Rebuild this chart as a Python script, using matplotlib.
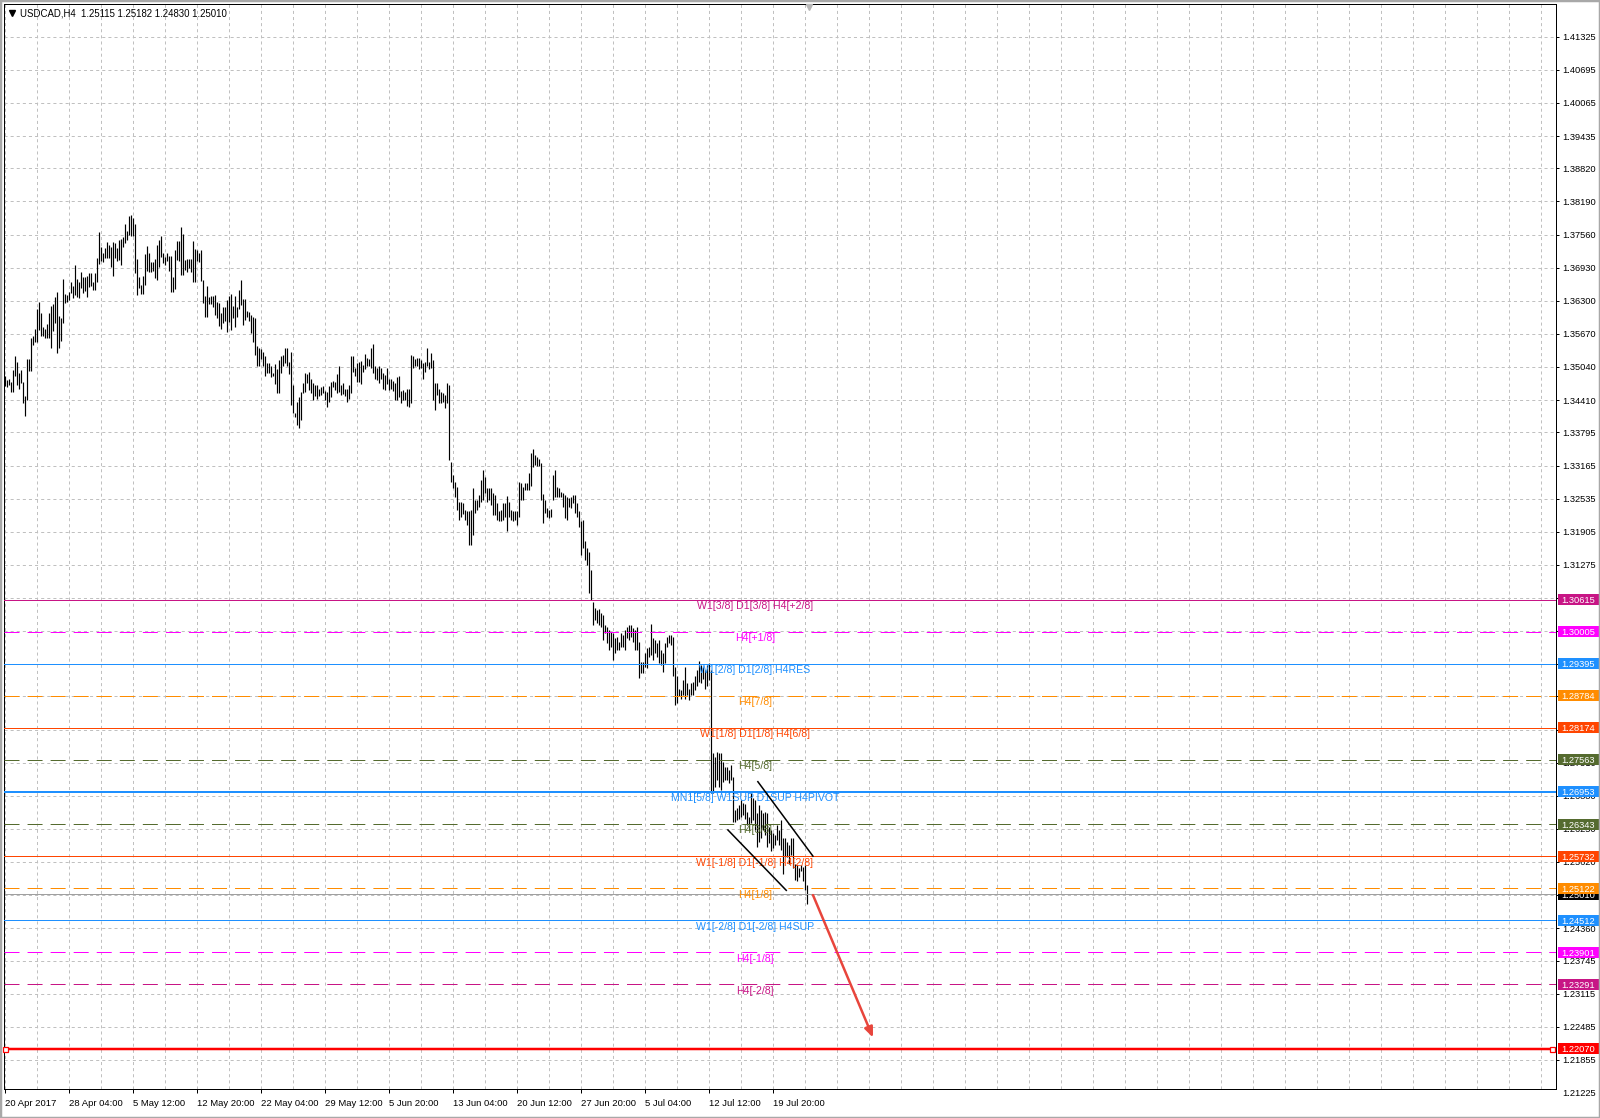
import numpy as np
import matplotlib
matplotlib.use("Agg")
import matplotlib.pyplot as plt
import matplotlib.transforms as mtransforms
from matplotlib.patches import Rectangle
from matplotlib.lines import Line2D

W, H = 1600, 1118

header_text = "USDCAD,H4  1.25115 1.25182 1.24830 1.25010"

# H4 bar highs / lows (one value per bar)
highs = [
    1.3486, 1.3479, 1.3481, 1.3476, 1.3498, 1.3525, 1.3514, 1.3492, 1.3498, 1.3476,
    1.3448, 1.3520, 1.3520, 1.3559, 1.3562, 1.3576, 1.3614, 1.3628, 1.3606, 1.3581,
    1.3576, 1.3586, 1.3606, 1.3620, 1.3624, 1.3637, 1.3647, 1.3601, 1.3597, 1.3671,
    1.3643, 1.3641, 1.3647, 1.3666, 1.3658, 1.3698, 1.3671, 1.3666, 1.3685, 1.3675,
    1.3676, 1.3677, 1.3683, 1.3683, 1.3666, 1.3683, 1.3711, 1.3760, 1.3733, 1.3720,
    1.3730, 1.3741, 1.3736, 1.3733, 1.3741, 1.3739, 1.3730, 1.3746, 1.3747, 1.3752,
    1.3777, 1.3762, 1.3791, 1.3793, 1.3787, 1.3776, 1.3709, 1.3676, 1.3660, 1.3677,
    1.3719, 1.3734, 1.3720, 1.3703, 1.3703, 1.3709, 1.3736, 1.3746, 1.3753, 1.3720,
    1.3713, 1.3720, 1.3715, 1.3715, 1.3676, 1.3727, 1.3744, 1.3743, 1.3770, 1.3758,
    1.3708, 1.3709, 1.3709, 1.3709, 1.3743, 1.3728, 1.3727, 1.3720, 1.3727, 1.3670,
    1.3639, 1.3658, 1.3638, 1.3639, 1.3639, 1.3641, 1.3628, 1.3625,
    1.3606, 1.3618, 1.3618, 1.3631, 1.3639, 1.3643, 1.3620, 1.3639, 1.3618, 1.3651,
    1.3670, 1.3633, 1.3633, 1.3611, 1.3609, 1.3603, 1.3600, 1.3598, 1.3544, 1.3540,
    1.3538, 1.3533, 1.3524, 1.3512, 1.3511, 1.3506, 1.3492, 1.3510, 1.3500, 1.3517,
    1.3525, 1.3527, 1.3540, 1.3540, 1.3514, 1.3533, 1.3470, 1.3417, 1.3438, 1.3446,
    1.3457, 1.3474, 1.3493, 1.3491, 1.3495, 1.3481, 1.3473, 1.3470, 1.3470, 1.3463,
    1.3465, 1.3467, 1.3459, 1.3457, 1.3467, 1.3476, 1.3478, 1.3476, 1.3491, 1.3506,
    1.3470, 1.3473, 1.3463, 1.3463, 1.3470, 1.3524, 1.3524, 1.3502, 1.3511, 1.3514,
    1.3516, 1.3508, 1.3529, 1.3522, 1.3519, 1.3541, 1.3548, 1.3505, 1.3502, 1.3505,
    1.3503, 1.3493, 1.3489, 1.3502, 1.3481, 1.3482, 1.3478, 1.3474, 1.3484, 1.3486,
    1.3459, 1.3460, 1.3457, 1.3463, 1.3462, 1.3527, 1.3524, 1.3520, 1.3522, 1.3522,
    1.3517, 1.3511, 1.3514, 1.3540, 1.3514, 1.3530, 1.3517, 1.3474, 1.3473, 1.3463,
    1.3457, 1.3454, 1.3451, 1.3473, 1.3470,
    1.3324, 1.3298, 1.3286, 1.3276, 1.3248, 1.3248, 1.3246, 1.3232, 1.3229, 1.3229,
    1.3232, 1.3273, 1.3251, 1.3251, 1.3260, 1.3289, 1.3308, 1.3295, 1.3273, 1.3273,
    1.3273, 1.3264, 1.3260, 1.3245, 1.3229, 1.3232, 1.3245, 1.3245, 1.3259, 1.3248,
    1.3232, 1.3229, 1.3229, 1.3229, 1.3286, 1.3283, 1.3276, 1.3283, 1.3283, 1.3302,
    1.3340, 1.3347, 1.3337, 1.3333, 1.3328, 1.3321, 1.3262, 1.3251, 1.3235, 1.3232,
    1.3233, 1.3298, 1.3308, 1.3276, 1.3273, 1.3267, 1.3264, 1.3260, 1.3257, 1.3254,
    1.3257, 1.3260, 1.3260, 1.3245, 1.3229, 1.3210, 1.3213, 1.3172, 1.3159, 1.3151,
    1.3118, 1.3057, 1.3045, 1.3042, 1.3043, 1.3035, 1.3032, 1.3013, 1.3010, 1.3004,
    1.3000, 1.2997, 1.2988, 1.2991, 1.2981, 1.2997, 1.2994, 1.3004, 1.3010, 1.3013,
    1.3013, 1.3007, 1.3004, 1.3010, 1.2981, 1.2943, 1.2943, 1.2959, 1.2969, 1.2972,
    1.3015, 1.2988, 1.2985, 1.2978, 1.2985, 1.2966, 1.2959, 1.2978, 1.2991, 1.2994,
    1.2994, 1.2991, 1.2934, 1.2915, 1.2892, 1.2889, 1.2908, 1.2934, 1.2902, 1.2892,
    1.2902, 1.2905, 1.2915, 1.2927, 1.2945, 1.2937, 1.2934, 1.2927, 1.2937, 1.2940,
    1.2927, 1.2769, 1.2762, 1.2772, 1.2769, 1.2769, 1.2753, 1.2743, 1.2743, 1.2738,
    1.2747, 1.2724, 1.2661, 1.2664, 1.2670, 1.2680, 1.2674, 1.2672, 1.2658, 1.2648,
    1.2693, 1.2683, 1.2680, 1.2655, 1.2670, 1.2661, 1.2655, 1.2658, 1.2655, 1.2629,
    1.2623, 1.2617, 1.2613, 1.2632, 1.2623, 1.2642, 1.2607, 1.2607, 1.2601, 1.2594,
    1.2607, 1.2607, 1.2559, 1.2556, 1.2550, 1.2556, 1.2553, 1.2556, 1.25182,
]

lows = [
    1.3467, 1.3465, 1.3470, 1.3457, 1.3457, 1.3486, 1.3470, 1.3462, 1.3473, 1.3436,
    1.3410, 1.3441, 1.3497, 1.3497, 1.3545, 1.3552, 1.3552, 1.3574, 1.3562, 1.3562,
    1.3560, 1.3560, 1.3560, 1.3541, 1.3573, 1.3587, 1.3530, 1.3540, 1.3554, 1.3587,
    1.3625, 1.3628, 1.3632, 1.3644, 1.3635, 1.3641, 1.3638, 1.3635, 1.3654, 1.3644,
    1.3649, 1.3638, 1.3656, 1.3658, 1.3651, 1.3651, 1.3666, 1.3700, 1.3705, 1.3703,
    1.3711, 1.3711, 1.3711, 1.3695, 1.3677, 1.3711, 1.3705, 1.3708, 1.3698, 1.3733,
    1.3739, 1.3746, 1.3755, 1.3753, 1.3753, 1.3682, 1.3641, 1.3654, 1.3643, 1.3643,
    1.3660, 1.3687, 1.3685, 1.3685, 1.3687, 1.3673, 1.3670, 1.3695, 1.3714, 1.3701,
    1.3698, 1.3705, 1.3687, 1.3647, 1.3647, 1.3652, 1.3708, 1.3705, 1.3679, 1.3679,
    1.3689, 1.3685, 1.3692, 1.3685, 1.3666, 1.3666, 1.3706, 1.3703, 1.3668, 1.3626,
    1.3600, 1.3600, 1.3624, 1.3624, 1.3619, 1.3603, 1.3597, 1.3582,
    1.3576, 1.3587, 1.3592, 1.3571, 1.3590, 1.3574, 1.3597, 1.3580, 1.3600, 1.3614,
    1.3622, 1.3584, 1.3593, 1.3600, 1.3592, 1.3568, 1.3552, 1.3527, 1.3506, 1.3506,
    1.3520, 1.3506, 1.3486, 1.3492, 1.3493, 1.3484, 1.3486, 1.3472, 1.3455, 1.3455,
    1.3493, 1.3505, 1.3511, 1.3505, 1.3491, 1.3432, 1.3417, 1.3408, 1.3394, 1.3387,
    1.3404, 1.3455, 1.3457, 1.3473, 1.3460, 1.3454, 1.3441, 1.3449, 1.3444, 1.3449,
    1.3451, 1.3454, 1.3442, 1.3427, 1.3438, 1.3446, 1.3465, 1.3460, 1.3454, 1.3457,
    1.3451, 1.3453, 1.3449, 1.3438, 1.3444, 1.3454, 1.3495, 1.3487, 1.3476, 1.3476,
    1.3472, 1.3495, 1.3500, 1.3505, 1.3506, 1.3502, 1.3493, 1.3482, 1.3479, 1.3473,
    1.3481, 1.3463, 1.3460, 1.3472, 1.3460, 1.3463, 1.3459, 1.3441, 1.3441, 1.3447,
    1.3436, 1.3441, 1.3442, 1.3429, 1.3427, 1.3436, 1.3502, 1.3505, 1.3506, 1.3500,
    1.3502, 1.3482, 1.3495, 1.3505, 1.3500, 1.3502, 1.3441, 1.3423, 1.3451, 1.3436,
    1.3436, 1.3438, 1.3425, 1.3436, 1.3327,
    1.3286, 1.3273, 1.3257, 1.3232, 1.3213, 1.3219, 1.3224, 1.3213, 1.3203, 1.3165,
    1.3165, 1.3184, 1.3226, 1.3232, 1.3238, 1.3248, 1.3251, 1.3264, 1.3248, 1.3251,
    1.3241, 1.3222, 1.3222, 1.3213, 1.3210, 1.3210, 1.3213, 1.3219, 1.3191, 1.3219,
    1.3213, 1.3210, 1.3213, 1.3203, 1.3219, 1.3251, 1.3251, 1.3270, 1.3270, 1.3270,
    1.3278, 1.3314, 1.3318, 1.3316, 1.3316, 1.3251, 1.3208, 1.3226, 1.3219, 1.3216,
    1.3218, 1.3251, 1.3257, 1.3257, 1.3257, 1.3256, 1.3238, 1.3216, 1.3213, 1.3238,
    1.3235, 1.3245, 1.3226, 1.3219, 1.3200, 1.3146, 1.3159, 1.3137, 1.3127, 1.3073,
    1.3061, 1.3013, 1.3023, 1.3016, 1.3013, 1.3010, 1.2985, 1.2997, 1.2978, 1.2966,
    1.2972, 1.2946, 1.2959, 1.2966, 1.2966, 1.2972, 1.2972, 1.2966, 1.2988, 1.2985,
    1.2991, 1.2981, 1.2966, 1.2966, 1.2912, 1.2921, 1.2921, 1.2934, 1.2931, 1.2953,
    1.2956, 1.2946, 1.2959, 1.2953, 1.2940, 1.2937, 1.2924, 1.2940, 1.2972, 1.2978,
    1.2975, 1.2915, 1.2861, 1.2864, 1.2877, 1.2873, 1.2880, 1.2873, 1.2880, 1.2870,
    1.2880, 1.2880, 1.2889, 1.2896, 1.2905, 1.2902, 1.2911, 1.2892, 1.2896, 1.2908,
    1.2693, 1.2693, 1.2705, 1.2718, 1.2704, 1.2699, 1.2715, 1.2718, 1.2718, 1.2712,
    1.2718, 1.2639, 1.2639, 1.2642, 1.2643, 1.2647, 1.2651, 1.2643, 1.2632, 1.2623,
    1.2636, 1.2642, 1.2623, 1.2591, 1.2601, 1.2607, 1.2623, 1.2613, 1.2591, 1.2598,
    1.2582, 1.2588, 1.2594, 1.2604, 1.2594, 1.2585, 1.2540, 1.2572, 1.2572, 1.2559,
    1.2575, 1.2550, 1.2528, 1.2525, 1.2534, 1.2544, 1.2525, 1.2509, 1.24830,
]

date_labels = ["20 Apr 2017", "28 Apr 04:00", "5 May 12:00", "12 May 20:00",
               "22 May 04:00", "29 May 12:00", "5 Jun 20:00", "13 Jun 04:00",
               "20 Jun 12:00", "27 Jun 20:00", "5 Jul 04:00", "12 Jul 12:00",
               "19 Jul 20:00"]
date_label_bars = [0, 32, 64, 96, 128, 160, 192, 224, 256, 288, 320, 352, 384]

price_ticks = [1.41325, 1.40695, 1.40065, 1.39435, 1.38820, 1.38190, 1.37560,
               1.36930, 1.36300, 1.35670, 1.35040, 1.34410, 1.33795, 1.33165,
               1.32535, 1.31905, 1.31275, 1.30645, 1.30015, 1.29385, 1.28770,
               1.28140, 1.27510, 1.26880, 1.26250, 1.25620, 1.24990, 1.24360,
               1.23745, 1.23115, 1.22485, 1.21855]
bottom_price_label = 1.21225

level_prices = [1.30615, 1.30005, 1.29395, 1.28784, 1.28174, 1.27563, 1.26953,
                1.26343, 1.25732, 1.25122, 1.24512, 1.23901, 1.23291, 1.22070]
level_names = ["W1[3/8] D1[3/8] H4[+2/8]", "H4[+1/8]", "W1[2/8] D1[2/8] H4RES",
               "H4[7/8]", "W1[1/8] D1[1/8] H4[6/8]", "H4[5/8]",
               "MN1[5/8] W1SUP D1SUP H4PIVOT", "H4[3/8]",
               "W1[-1/8] D1[-1/8] H4[2/8]", "H4[1/8]", "W1[-2/8] D1[-2/8] H4SUP",
               "H4[-1/8]", "H4[-2/8]", ""]
level_colors = ["#c71585", "#ff00ff", "#1e90ff", "#ff8c00", "#ff4500", "#556b2f",
                "#1e90ff", "#556b2f", "#ff4500", "#ff8c00", "#1e90ff", "#ff00ff",
                "#c71585", "#ff0000"]
level_dashed = [False, True, False, True, False, True, False, True, False, True,
                False, True, True, False]
level_width_px = [1, 1, 1, 1, 1, 1, 2, 1, 1, 1, 1, 1, 1, 2.5]

bid_price = 1.25010

# hand-drawn objects: (bar, price) end points
upper_channel = [(376.2, 1.2716), (404.2, 1.2572)]
lower_channel = [(361.2, 1.2624), (390.9, 1.2507)]
target_arrow = [(404.0, 1.2499), (434.0, 1.2228)]
red_line_ends = [0, 773.5]

PX = 0.72  # points per pixel at dpi 100


def setup_axes(fig):
    ax = fig.add_axes([4 / W, (H - 1089) / H, 1552 / W, 1085 / H])
    ax.set_xlim(-0.5, 775.5)
    ax.set_ylim(1.213003, 1.419473)

    ax.set_xticks(date_label_bars)
    ax.set_xticklabels(date_labels, ha='left')
    ax.set_xticks(np.arange(16, 776, 16), minor=True)
    ax.set_yticks(price_ticks)
    ax.set_yticklabels([f'{p:.5f}' for p in price_ticks])
    ax.yaxis.tick_right()

    ax.grid(True, which='both', color='#c0c0c0', linestyle=(0, (2.2, 2.2)), linewidth=PX)
    ax.tick_params(axis='x', which='minor', length=0)
    ax.tick_params(axis='x', which='major', length=3, width=PX, pad=4, labelsize=6.8)
    ax.tick_params(axis='y', length=2.5, width=PX, pad=2, labelsize=6.7)
    for s in ax.spines.values():
        s.set_color('black')
        s.set_linewidth(PX)
    return ax


def draw_levels(ax):
    trans = mtransforms.blended_transform_factory(ax.transAxes, ax.transData)
    y0, y1 = ax.get_ylim()
    box_h = (y1 - y0) / 1085 * 11
    box_x, box_w = 1554 / 1552, 41 / 1552

    # bid line + its black price box sit under the level boxes
    ax.axhline(bid_price, color='#a0a0a0', lw=PX, zorder=2.5)
    ax.add_patch(Rectangle((box_x, bid_price - box_h / 2), box_w, box_h, transform=trans,
                           facecolor='black', edgecolor='none', clip_on=False, zorder=9))
    ax.text(box_x + box_w / 2, bid_price, f'{bid_price:.5f}', transform=trans, ha='center',
            va='center_baseline', color='white', fontsize=6.7, zorder=9.5, clip_on=False)

    for p, name, c, dashed, w in zip(level_prices, level_names, level_colors,
                                     level_dashed, level_width_px):
        ls = (0, (10.8, 5.8)) if dashed else '-'
        ax.axhline(p, color=c, lw=w * PX, linestyle=ls, zorder=3)
        if name:
            ax.annotate(name, (375, p), xytext=(0, -1), textcoords='offset points',
                        ha='center', va='top', color=c, fontsize=7.6, zorder=4)
        ax.add_patch(Rectangle((box_x, p - box_h / 2), box_w, box_h, transform=trans,
                               facecolor=c, edgecolor='none', clip_on=False, zorder=10))
        ax.text(box_x + box_w / 2, p, f'{p:.5f}', transform=trans, ha='center',
                va='center_baseline', color='white', fontsize=6.7, zorder=11, clip_on=False)

    ax.plot(red_line_ends, [level_prices[-1]] * 2, ls='none', marker='s', ms=3.6,
            mfc='white', mec='red', mew=0.9, zorder=5, clip_on=False)

    ax.text(1 + 6 / 1552, bottom_price_label, f'{bottom_price_label:.5f}', transform=trans,
            ha='left', va='center_baseline', fontsize=6.7, clip_on=False)


def main():
    plt.rcParams['font.family'] = ['Liberation Sans', 'DejaVu Sans']
    plt.rcParams['lines.scale_dashes'] = False

    fig = plt.figure(figsize=(W / 100, H / 100), dpi=100, facecolor='white')
    ax = setup_axes(fig)

    bars = np.arange(len(highs))
    ax.vlines(bars, lows, highs, colors='black', linewidth=0.85, zorder=2)

    draw_levels(ax)

    for line in (upper_channel, lower_channel):
        ax.plot([q[0] for q in line], [q[1] for q in line], color='black', lw=1.1,
                zorder=4, solid_capstyle='butt')

    ax.annotate('', xy=target_arrow[1], xytext=target_arrow[0],
                arrowprops=dict(arrowstyle='-|>,head_length=0.6,head_width=0.25',
                                color='#e8453c', lw=1.8, shrinkA=0, shrinkB=0), zorder=6)

    # chart shift marker at the top edge
    top_trans = mtransforms.blended_transform_factory(ax.transData, ax.transAxes)
    ax.plot([len(highs)], [1 - 3 / 1085], marker='v', ms=5, color='#b8b8b8',
            transform=top_trans, clip_on=False, zorder=6)

    fig.add_artist(Line2D([12 / W], [1 - 13 / H], marker='v', ms=3.8, color='black',
                          transform=fig.transFigure))
    fig.text(20 / W, 1 - 13 / H, header_text, fontsize=6.9, ha='left', va='center')

    fig.add_artist(Rectangle((0, 0), 1, 1, transform=fig.transFigure, fill=False,
                             edgecolor='#a8a8a8', lw=2.5))

    fig.savefig('out.png', dpi=100)


if __name__ == '__main__':
    main()
